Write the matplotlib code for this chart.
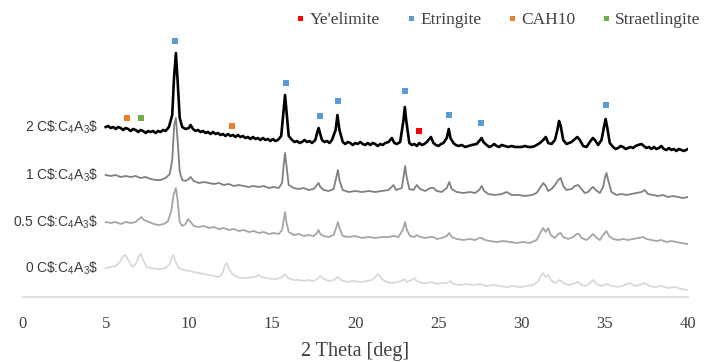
import matplotlib
matplotlib.use("Agg")
import matplotlib.pyplot as plt
from matplotlib.lines import Line2D

plt.rcParams['mathtext.fontset'] = 'custom'
plt.rcParams['mathtext.rm'] = 'Liberation Sans'
plt.rcParams['mathtext.it'] = 'Liberation Sans'
plt.rcParams['mathtext.bf'] = 'Liberation Sans'

# ---------------- data (2 Theta [deg], stacked intensity, a.u.) ----------------
pattern_2 = [(5.0, 170), (5.15, 171), (5.3, 169), (5.45, 170), (5.6, 168), (5.75, 170), (5.9, 169), (6.05, 167),
             (6.2, 169), (6.35, 168), (6.5, 166), (6.65, 168), (6.8, 167), (6.95, 165), (7.1, 167), (7.25, 166),
             (7.4, 164), (7.55, 166), (7.7, 165), (7.85, 166), (8.0, 164), (8.15, 166), (8.3, 165), (8.45, 167),
             (8.6, 166), (8.8, 170), (9.0, 182), (9.1, 217), (9.22, 244), (9.32, 217), (9.45, 179), (9.6, 170),
             (9.8, 168), (10.0, 169), (10.1, 172), (10.25, 168), (10.4, 166), (10.55, 167), (10.7, 165),
             (10.85, 166), (11.0, 164), (11.15, 165), (11.3, 163), (11.45, 165), (11.6, 163), (11.75, 164),
             (11.9, 162), (12.05, 163), (12.2, 161), (12.35, 163), (12.5, 161), (12.65, 162), (12.8, 160),
             (12.95, 162), (13.1, 160), (13.25, 161), (13.4, 159), (13.55, 160), (13.7, 158), (13.85, 160),
             (14.0, 158), (14.15, 159), (14.3, 157), (14.45, 159), (14.6, 157), (14.75, 158), (14.9, 156),
             (15.05, 158), (15.2, 156), (15.35, 157), (15.55, 161), (15.7, 187), (15.78, 202), (15.86, 187),
             (16.0, 161), (16.2, 157), (16.35, 155), (16.5, 156), (16.65, 154), (16.8, 155), (16.95, 157),
             (17.1, 155), (17.25, 156), (17.4, 154), (17.6, 157), (17.72, 165), (17.8, 169), (17.88, 164),
             (18.0, 157), (18.15, 155), (18.3, 156), (18.45, 154), (18.6, 157), (18.82, 167), (18.93, 182),
             (19.05, 167), (19.25, 155), (19.4, 153), (19.55, 155), (19.7, 154), (19.85, 152), (20.0, 154),
             (20.15, 153), (20.3, 155), (20.45, 153), (20.6, 152), (20.75, 154), (20.9, 152), (21.05, 154),
             (21.2, 153), (21.35, 151), (21.5, 153), (21.65, 152), (21.8, 154), (22.0, 155), (22.2, 159),
             (22.35, 154), (22.5, 153), (22.7, 155), (22.9, 177), (22.98, 190), (23.06, 177), (23.25, 154),
             (23.4, 152), (23.55, 153), (23.7, 151), (23.85, 154), (24.0, 152), (24.15, 153), (24.3, 155),
             (24.45, 158), (24.55, 160), (24.7, 154), (24.85, 152), (25.0, 151), (25.15, 153), (25.3, 154),
             (25.5, 159), (25.62, 168), (25.72, 159), (25.9, 154), (26.05, 152), (26.2, 151), (26.4, 152),
             (26.6, 150), (26.8, 151), (27.0, 152), (27.3, 153), (27.5, 157), (27.6, 159), (27.7, 155),
             (27.9, 152), (28.05, 150), (28.2, 151), (28.35, 153), (28.5, 151), (28.65, 150), (28.8, 152),
             (29.0, 151), (29.2, 150), (29.4, 151), (29.6, 150), (29.8, 150), (30.0, 150), (30.2, 151),
             (30.4, 150), (30.6, 150), (30.8, 151), (31.1, 154), (31.3, 157), (31.45, 160), (31.6, 154),
             (31.8, 153), (32.0, 157), (32.15, 167), (32.25, 176), (32.35, 171), (32.5, 157), (32.7, 153),
             (33.0, 155), (33.2, 158), (33.35, 160), (33.5, 157), (33.7, 151), (33.9, 150), (34.1, 155),
             (34.28, 159), (34.4, 157), (34.6, 152), (34.8, 157), (34.95, 170), (35.05, 178), (35.15, 169),
             (35.3, 154), (35.5, 150), (35.65, 148), (35.8, 149), (35.95, 151), (36.1, 150), (36.25, 148),
             (36.4, 149), (36.55, 150), (36.7, 149), (36.85, 151), (37.0, 152), (37.2, 153), (37.35, 151),
             (37.5, 149), (37.65, 150), (37.8, 148), (37.95, 150), (38.1, 148), (38.25, 149), (38.4, 151),
             (38.55, 148), (38.7, 147), (38.85, 149), (39.0, 147), (39.15, 148), (39.3, 146), (39.45, 148),
             (39.6, 147), (39.75, 146), (40.0, 148)]

x_1 = [5.0, 5.3, 5.6, 5.9, 6.2, 6.5, 6.8, 7.1, 7.4, 7.7, 8.0, 8.3, 8.6, 8.85, 9.0, 9.12, 9.22, 9.32, 9.45,
       9.6, 9.8, 10.0, 10.1, 10.3, 10.6, 10.9, 11.2, 11.5, 11.8, 12.1, 12.4, 12.7, 13.0, 13.3, 13.6, 13.9,
       14.2, 14.5, 14.8, 15.1, 15.4, 15.6, 15.7, 15.78, 15.86, 16.0, 16.3, 16.6, 16.9, 17.2, 17.5, 17.7,
       17.8, 17.9, 18.1, 18.4, 18.7, 18.85, 18.96, 19.05, 19.25, 19.6, 20.0, 20.4, 20.8, 21.2, 21.6, 22.0,
       22.3, 22.45, 22.8, 22.92, 23.0, 23.08, 23.25, 23.5, 23.7, 23.9, 24.2, 24.5, 24.7, 24.9, 25.2, 25.5,
       25.65, 25.8, 26.1, 26.5, 26.9, 27.2, 27.45, 27.6, 27.75, 28.0, 28.4, 28.8, 29.1, 29.4, 29.8, 30.2,
       30.6, 30.9, 31.1, 31.3, 31.45, 31.6, 31.8, 32.0, 32.2, 32.35, 32.5, 32.7, 33.0, 33.2, 33.4, 33.55,
       33.8, 34.0, 34.2, 34.3, 34.45, 34.7, 34.9, 35.0, 35.1, 35.2, 35.4, 35.7, 36.0, 36.3, 36.6, 36.9,
       37.2, 37.4, 37.6, 37.9, 38.2, 38.5, 38.8, 39.1, 39.4, 39.7, 40.0]
y_1 = [122, 121, 122, 120, 121, 120, 121, 119, 120, 118, 117, 117, 119, 123, 137, 172, 179, 157, 125,
       117, 116, 118, 120, 116, 114, 115, 114, 113, 114, 112, 113, 111, 112, 111, 110, 111,
       110, 111, 109, 110, 109, 114, 132, 144, 132, 112, 109, 108, 109, 107, 108, 112,
       114, 110, 107, 106, 108, 119, 127, 117, 107, 105, 106, 105, 106, 105, 106, 107,
       112, 107, 109, 122, 131, 121, 108, 107, 112, 108, 106, 109, 109, 106, 105, 109,
       115, 108, 105, 104, 105, 104, 107, 111, 106, 103, 102, 103, 105, 102, 102, 101,
       102, 104, 109, 114, 111, 106, 108, 112, 117, 119, 111, 107, 108, 111, 112, 109,
       104, 105, 109, 110, 107, 104, 110, 119, 124, 117, 105, 102, 103, 102, 103, 104,
       105, 107, 103, 102, 101, 102, 100, 101, 100, 99, 100]

x_05 = [5.0, 5.3, 5.6, 5.9, 6.2, 6.5, 6.8, 7.0, 7.15, 7.3, 7.6, 7.9, 8.2, 8.5, 8.75, 8.95, 9.08, 9.22, 9.32,
        9.45, 9.6, 9.8, 9.95, 10.1, 10.3, 10.6, 10.9, 11.2, 11.5, 11.8, 12.1, 12.4, 12.7, 13.0, 13.3, 13.6,
        13.9, 14.2, 14.5, 14.8, 15.1, 15.4, 15.6, 15.7, 15.78, 15.86, 16.0, 16.3, 16.6, 16.9, 17.2, 17.5,
        17.7, 17.8, 17.9, 18.1, 18.4, 18.7, 18.85, 18.96, 19.05, 19.25, 19.6, 20.0, 20.4, 20.8, 21.2, 21.6,
        22.0, 22.3, 22.6, 22.85, 23.0, 23.1, 23.3, 23.55, 23.7, 23.9, 24.2, 24.5, 24.7, 24.9, 25.2, 25.5,
        25.65, 25.8, 26.1, 26.5, 26.9, 27.2, 27.45, 27.6, 27.8, 28.1, 28.5, 28.9, 29.3, 29.7, 30.1, 30.5,
        30.9, 31.15, 31.3, 31.45, 31.6, 31.75, 32.0, 32.2, 32.35, 32.5, 32.8, 33.1, 33.3, 33.45, 33.6, 33.9,
        34.1, 34.3, 34.45, 34.7, 34.95, 35.1, 35.25, 35.5, 35.8, 36.1, 36.4, 36.7, 37.0, 37.3, 37.5, 37.8,
        38.1, 38.4, 38.7, 39.0, 39.3, 39.6, 40.0]
y_05 = [75, 74, 75, 73, 75, 74, 75, 78, 80, 77, 75, 73, 72, 73, 76, 87, 102, 109, 97,
        75, 71, 73, 78, 75, 71, 70, 71, 69, 70, 68, 69, 67, 68, 66, 67, 65,
        66, 64, 65, 63, 64, 63, 67, 77, 85, 75, 65, 62, 63, 61, 62, 61,
        64, 67, 63, 61, 60, 62, 69, 75, 69, 61, 60, 61, 59, 60, 59, 60,
        60, 61, 60, 67, 75, 67, 61, 60, 62, 60, 59, 60, 60, 58, 59, 61,
        64, 60, 58, 57, 58, 57, 59, 59, 57, 56, 55, 56, 55, 54, 55, 54,
        57, 65, 69, 65, 69, 62, 59, 63, 64, 60, 58, 60, 63, 63, 59, 57,
        60, 63, 60, 57, 63, 66, 61, 58, 57, 58, 57, 58, 59, 60, 58, 57,
        56, 57, 55, 56, 55, 54, 53]

x_0 = [5.0, 5.3, 5.6, 5.85, 6.05, 6.2, 6.35, 6.6, 6.8, 7.0, 7.1, 7.25, 7.45, 7.7, 8.0, 8.3, 8.6, 8.85, 9.0,
       9.08, 9.2, 9.4, 9.7, 10.0, 10.3, 10.6, 10.9, 11.2, 11.5, 11.8, 12.0, 12.15, 12.27, 12.4, 12.6, 12.9,
       13.2, 13.5, 13.8, 14.0, 14.2, 14.4, 14.7, 15.0, 15.3, 15.6, 15.78, 15.95, 16.3, 16.6, 16.9, 17.2,
       17.5, 17.7, 17.9, 18.1, 18.4, 18.7, 18.95, 19.15, 19.5, 19.9, 20.3, 20.7, 21.0, 21.2, 21.4, 21.6,
       21.9, 22.2, 22.5, 22.8, 22.95, 23.1, 23.4, 23.55, 23.7, 24.0, 24.3, 24.6, 24.9, 25.2, 25.5, 25.7,
       25.9, 26.3, 26.7, 27.1, 27.5, 27.9, 28.3, 28.7, 29.1, 29.5, 29.9, 30.3, 30.7, 31.0, 31.2, 31.3,
       31.45, 31.6, 31.75, 32.0, 32.3, 32.5, 32.8, 33.1, 33.4, 33.6, 33.9, 34.1, 34.3, 34.5, 34.8, 35.1,
       35.4, 35.8, 36.2, 36.5, 36.8, 37.1, 37.4, 37.7, 38.0, 38.4, 38.8, 39.2, 39.6, 40.0]
y_0 = [29, 30, 31, 35, 41, 42, 37, 30, 33, 41, 43, 37, 30, 29, 28, 28, 29, 33, 41,
       42, 35, 29, 27, 26, 25, 24, 23, 22, 21, 20, 23, 31, 34, 29, 23, 20,
       19, 19, 20, 20, 22, 20, 19, 18, 18, 20, 23, 19, 17, 17, 16, 17,
       16, 18, 21, 18, 16, 17, 20, 17, 15, 16, 15, 16, 17, 20, 23, 18,
       15, 14, 15, 16, 18, 15, 17, 19, 16, 14, 14, 15, 13, 14, 14, 16,
       13, 12, 13, 12, 13, 11, 12, 11, 10, 11, 10, 11, 12, 16, 22, 24,
       20, 22, 17, 14, 17, 14, 12, 13, 15, 12, 11, 14, 17, 13, 11, 13,
       11, 10, 12, 14, 11, 12, 14, 11, 10, 11, 9, 10, 8, 7]

series_labels = [r"2 C\$:C$_4$A$_3$\$", r"1 C\$:C$_4$A$_3$\$", r"0.5 C\$:C$_4$A$_3$\$", r"0 C\$:C$_4$A$_3$\$"]
series_colors = ["#000000", "#808080", "#a6a6a6", "#d9d9d9"]
series_widths = [1.9, 1.3, 1.3, 1.3]

# phase markers (2 Theta, height)
yeelimite_x = [23.82]
yeelimite_y = [166]
ettringite_x = [9.16, 15.83, 17.88, 18.96, 22.99, 25.63, 27.55, 35.06]
ettringite_y = [256, 214, 181, 196, 206, 182, 174, 192]
cah10_x = [6.28, 12.59]
cah10_y = [179, 171]
straet_x = [7.12]
straet_y = [179]

phase_names = ["Ye'elimite", "Etringite", "CAH10", "Straetlingite"]
phase_colors = ["#ff0000", "#5b9bd5", "#ed7d31", "#70ad47"]

x_ticks = [0, 5, 10, 15, 20, 25, 30, 35, 40]

# ---------------- figure ----------------
fig = plt.figure(figsize=(7.04, 3.62), dpi=100)
ax = fig.add_axes([22.5 / 704, 1 - 297 / 362, (688 - 22.5) / 704, 287 / 362])

x_2 = [p[0] for p in pattern_2]
y_2 = [p[1] for p in pattern_2]

series = [(x_0, y_0), (x_05, y_05), (x_1, y_1), (x_2, y_2)]
order = [3, 2, 1, 0]
for (xs, ys), i in zip(series, order):
    ax.plot(xs, ys, color=series_colors[i], lw=series_widths[i], solid_joinstyle='round', zorder=2 + (3 - i))
    ax.text(xs[0] - 0.45, ys[0], series_labels[i], ha='right', va='center',
            fontsize=10, family='Liberation Sans', color='#3a3a3a')

phase_xy = [(yeelimite_x, yeelimite_y), (ettringite_x, ettringite_y), (cah10_x, cah10_y), (straet_x, straet_y)]
for (px, py), c in zip(phase_xy, phase_colors):
    ax.scatter(px, py, marker='s', s=14, color=c, linewidths=0, zorder=10)

ax.set_xlim(0, 40)
ax.set_ylim(0, 287)
ax.set_xticks(x_ticks)
ax.set_xticklabels([str(t) for t in x_ticks], family='Liberation Serif', fontsize=12, color='#404040')
ax.tick_params(axis='x', length=0, pad=14)
ax.set_yticks([])
for s in ['left', 'right', 'top']:
    ax.spines[s].set_visible(False)
ax.spines['bottom'].set_color('#d9d9d9')
ax.spines['bottom'].set_linewidth(1.2)
ax.set_xlabel("2 Theta [deg]", family='Liberation Serif', fontsize=14.5, color='#404040', labelpad=7)

handles = [Line2D([], [], marker='s', linestyle='none', markersize=3.6, markerfacecolor=c,
                  markeredgewidth=0) for c in phase_colors]
leg = fig.legend(handles, phase_names, loc='upper right', bbox_to_anchor=(1.004, 0.985), ncol=4,
                 frameon=False, handlelength=0.4, handletextpad=0.35, columnspacing=1.55,
                 prop={'family': 'Liberation Serif', 'size': 12.5}, borderaxespad=0.15, borderpad=0.2)
for t in leg.get_texts():
    t.set_color('#404040')

fig.savefig("out.png", dpi=100)
